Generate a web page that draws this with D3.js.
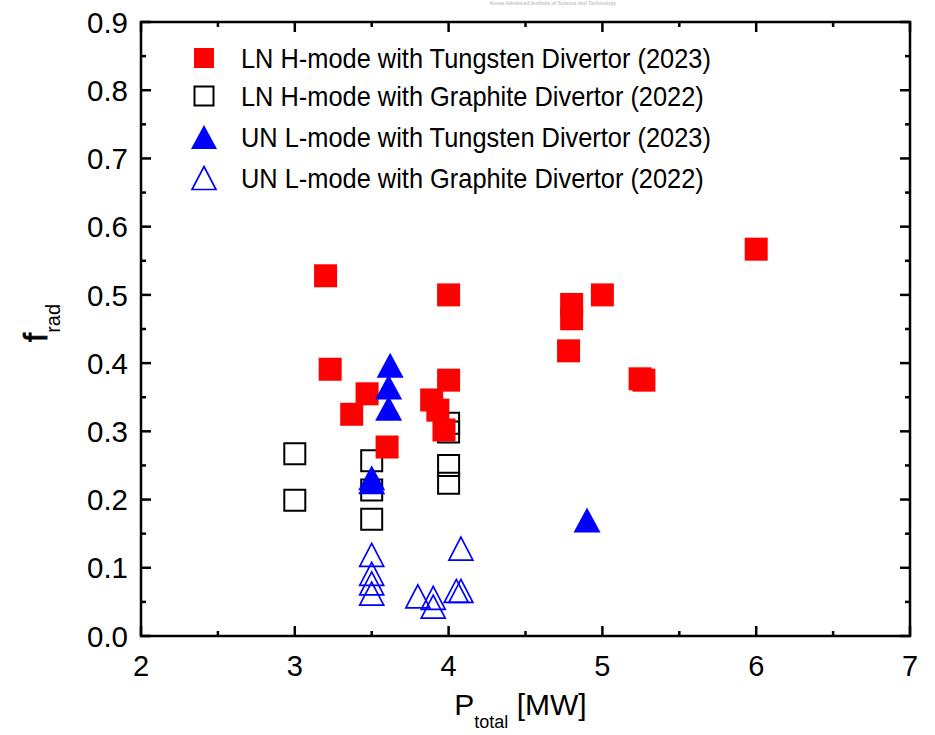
<!DOCTYPE html>
<html>
<head>
<meta charset="utf-8">
<script src="https://cdn.jsdelivr.net/npm/d3@7"></script>
<style>
  body { margin: 0; background: #fff; }
  text { font-family: "Liberation Sans", Arial, sans-serif; fill: #000; }
</style>
</head>
<body>
<div id="chart"></div>
<script>
// LN H-mode, tungsten divertor (2023) - red filled squares
var lnTungX = [3.20, 3.23, 3.37, 3.47, 3.60, 3.89, 3.93, 3.97, 4.00, 4.00, 4.78, 4.80, 4.80, 5.00, 5.245, 5.27, 6.00];
var lnTungY = [0.528, 0.391, 0.325, 0.355, 0.277, 0.346, 0.331, 0.302, 0.375, 0.500, 0.418, 0.465, 0.486, 0.500, 0.377, 0.375, 0.567];

// LN H-mode, graphite divertor (2022) - black open squares
var lnGraphX = [3.00, 3.00, 3.50, 3.50, 3.50, 4.00, 4.00, 4.00, 4.00];
var lnGraphY = [0.267, 0.199, 0.257, 0.214, 0.171, 0.312, 0.299, 0.250, 0.224];

// UN L-mode, tungsten divertor (2023) - blue filled triangles
var unTungX = [3.62, 3.61, 3.61, 3.50, 3.50, 4.90];
var unTungY = [0.397, 0.365, 0.334, 0.232, 0.226, 0.170];

// UN L-mode, graphite divertor (2022) - blue open triangles
var unGraphX = [3.50, 3.50, 3.50, 3.50, 3.80, 3.90, 3.90, 4.05, 4.08, 4.08];
var unGraphY = [0.119, 0.091, 0.077, 0.062, 0.058, 0.056, 0.043, 0.066, 0.066, 0.128];

var legendLabels = [
    "LN H-mode with Tungsten Divertor (2023)",
    "LN H-mode with Graphite Divertor (2022)",
    "UN L-mode with Tungsten Divertor (2023)",
    "UN L-mode with Graphite Divertor (2022)"
];

var xTicks = [2, 3, 4, 5, 6, 7];
var yTicks = [0.0, 0.1, 0.2, 0.3, 0.4, 0.5, 0.6, 0.7, 0.8, 0.9];

var width = 935;
var height = 735;
var margin = { left: 141, right: 25, top: 22, bottom: 99 };

var x = d3.scaleLinear().domain([2, 7]).range([margin.left, width - margin.right]);
var y = d3.scaleLinear().domain([0, 0.9]).range([height - margin.bottom, margin.top]);

var svg = d3.select("#chart").append("svg")
    .attr("width", width)
    .attr("height", height);

//faint watermark at the very top
svg.append("text")
    .attr("x", 553).attr("y", 5)
    .attr("text-anchor", "middle")
    .style("font-size", "5px")
    .style("font-weight", "bold")
    .style("fill", "#c4c4c4")
    .text("Korea Advanced Institute of Science and Technology");

//marker path helpers
function squarePath(cx, cy, s) {
    var h = s / 2;
    return "M" + (cx - h) + "," + (cy - h) + "h" + s + "v" + s + "h" + (-s) + "Z";
}
function trianglePath(cx, cy, w, h) {
    return "M" + cx + "," + (cy - h / 2) + "L" + (cx + w / 2) + "," + (cy + h / 2) +
        "L" + (cx - w / 2) + "," + (cy + h / 2) + "Z";
}

function zip(xs, ys) {
    return xs.map(function(d, i) { return { x: d, y: ys[i] }; });
}

var plot = svg.append("g");

//graphite squares go first, the rest are drawn on top
plot.selectAll(".lng").data(zip(lnGraphX, lnGraphY)).enter().append("path")
    .attr("d", function(d) { return squarePath(x(d.x), y(d.y), 21); })
    .attr("fill", "none")
    .attr("stroke", "#000")
    .attr("stroke-width", 2);

plot.selectAll(".lnt").data(zip(lnTungX, lnTungY)).enter().append("path")
    .attr("d", function(d) { return squarePath(x(d.x), y(d.y), 23); })
    .attr("fill", "#ff0000");

plot.selectAll(".unt").data(zip(unTungX, unTungY)).enter().append("path")
    .attr("d", function(d) { return trianglePath(x(d.x), y(d.y), 27, 25); })
    .attr("fill", "#0000ff");

plot.selectAll(".ung").data(zip(unGraphX, unGraphY)).enter().append("path")
    .attr("d", function(d) { return trianglePath(x(d.x), y(d.y), 24, 23); })
    .attr("fill", "none")
    .attr("stroke", "#0000ff")
    .attr("stroke-width", 1.7);

//frame and inward ticks
var x0 = x(2), x1 = x(7), y0 = y(0), y1 = y(0.9);
var frame = svg.append("g").attr("stroke", "#000").attr("stroke-width", 2.5).attr("fill", "none");
frame.append("rect")
    .attr("x", x0).attr("y", y1)
    .attr("width", x1 - x0).attr("height", y0 - y1);

var xMinor = d3.range(2.5, 7, 1);
var yMinor = d3.range(0.05, 0.9, 0.1);

xTicks.forEach(function(t) {
    frame.append("line").attr("x1", x(t)).attr("x2", x(t)).attr("y1", y0).attr("y2", y0 - 10);
    frame.append("line").attr("x1", x(t)).attr("x2", x(t)).attr("y1", y1).attr("y2", y1 + 10);
});
xMinor.forEach(function(t) {
    frame.append("line").attr("x1", x(t)).attr("x2", x(t)).attr("y1", y0).attr("y2", y0 - 5);
    frame.append("line").attr("x1", x(t)).attr("x2", x(t)).attr("y1", y1).attr("y2", y1 + 5);
});
yTicks.forEach(function(t) {
    frame.append("line").attr("x1", x0).attr("x2", x0 + 10).attr("y1", y(t)).attr("y2", y(t));
    frame.append("line").attr("x1", x1).attr("x2", x1 - 10).attr("y1", y(t)).attr("y2", y(t));
});
yMinor.forEach(function(t) {
    frame.append("line").attr("x1", x0).attr("x2", x0 + 5).attr("y1", y(t)).attr("y2", y(t));
    frame.append("line").attr("x1", x1).attr("x2", x1 - 5).attr("y1", y(t)).attr("y2", y(t));
});

//tick labels
svg.selectAll(".xl").data(xTicks).enter().append("text")
    .attr("x", function(d) { return x(d); })
    .attr("y", y0 + 40)
    .attr("text-anchor", "middle")
    .style("font-size", "29px")
    .text(function(d) { return d; });

svg.selectAll(".yl").data(yTicks).enter().append("text")
    .attr("x", x0 - 13)
    .attr("y", function(d) { return y(d); })
    .attr("dy", "0.36em")
    .attr("text-anchor", "end")
    .style("font-size", "29.5px")
    .text(function(d) { return d3.format(".1f")(d); });

//axis titles
var xt = svg.append("text")
    .attr("x", (x0 + x1) / 2 - 5)
    .attr("y", 715)
    .attr("text-anchor", "middle")
    .style("font-size", "30px");
xt.append("tspan").text("P");
xt.append("tspan").attr("dy", 13).style("font-size", "18px").text("total");
xt.append("tspan").attr("dy", -13).text(" [MW]");

var yt = svg.append("text")
    .attr("transform", "translate(47," + ((y0 + y1) / 2 - 6) + ") rotate(-90)")
    .attr("text-anchor", "middle")
    .style("font-size", "33px");
yt.append("tspan").text("f").style("stroke", "#000").style("stroke-width", 0.8);
yt.append("tspan").attr("dy", 13).style("font-size", "20px").text("rad");

//legend
var legendRows = [58, 96, 137, 178];
var legend = svg.append("g");
legendRows.forEach(function(ry, i) {
    if (i === 0) {
        legend.append("path").attr("d", squarePath(204, ry, 20)).attr("fill", "#ff0000");
    } else if (i === 1) {
        legend.append("path").attr("d", squarePath(204, ry, 19)).attr("fill", "none")
            .attr("stroke", "#000").attr("stroke-width", 2);
    } else if (i === 2) {
        legend.append("path").attr("d", trianglePath(204, ry, 26, 24)).attr("fill", "#0000ff");
    } else {
        legend.append("path").attr("d", trianglePath(204, ry, 24, 23)).attr("fill", "none")
            .attr("stroke", "#0000ff").attr("stroke-width", 1.7);
    }
    legend.append("text")
        .attr("transform", "translate(241," + (ry + 10) + ") scale(1,1.1)")
        .style("font-size", "25.4px")
        .text(legendLabels[i]);
});
</script>
</body>
</html>
